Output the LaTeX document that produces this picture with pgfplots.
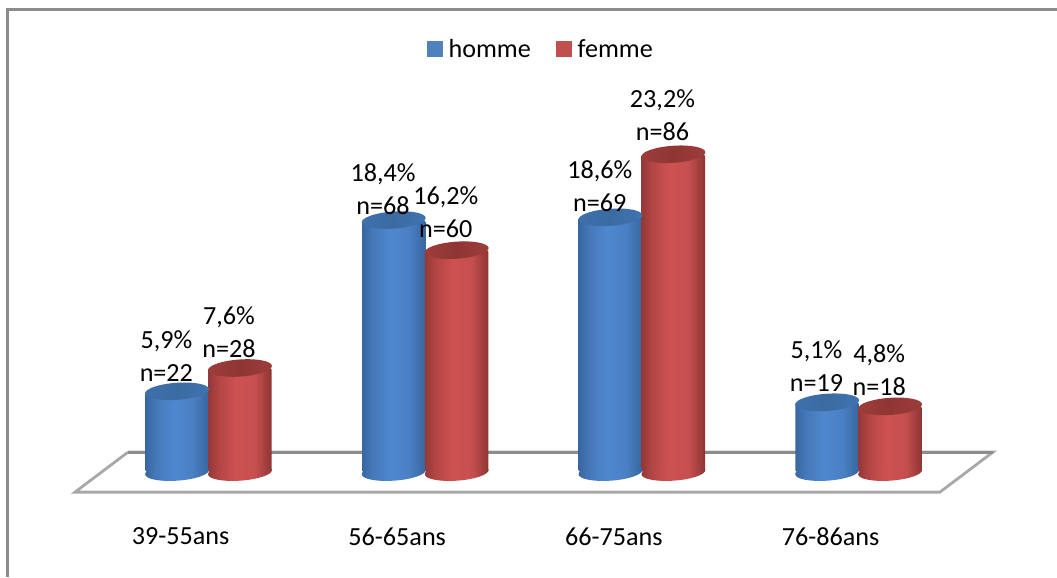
\documentclass[border=0pt]{standalone}
\usepackage{fontspec}
\setmainfont{Carlito}
\usepackage{pgfplots}
\usepackage{pgfplotstable}
\pgfplotsset{compat=1.18}

\definecolor{framegray}{RGB}{140,140,140}
\definecolor{floorgray}{RGB}{168,168,168}
\definecolor{legblue}{RGB}{79,129,189}
\definecolor{legred}{RGB}{192,80,77}

% cylinder body, stops between 25bp and 75bp span the path
\pgfdeclarehorizontalshading{cylblue}{100bp}{
  rgb(0bp)=(0.22,0.40,0.63); rgb(25bp)=(0.22,0.40,0.63); rgb(33bp)=(0.27,0.47,0.72);
  rgb(47bp)=(0.31,0.53,0.81); rgb(62bp)=(0.29,0.50,0.77); rgb(75bp)=(0.22,0.40,0.62); rgb(100bp)=(0.22,0.40,0.62)}
\pgfdeclarehorizontalshading{cylred}{100bp}{
  rgb(0bp)=(0.58,0.22,0.22); rgb(25bp)=(0.58,0.22,0.22); rgb(33bp)=(0.70,0.27,0.27);
  rgb(47bp)=(0.81,0.32,0.32); rgb(62bp)=(0.77,0.31,0.31); rgb(75bp)=(0.55,0.21,0.20); rgb(100bp)=(0.55,0.21,0.20)}
\pgfdeclarehorizontalshading{capblue}{100bp}{
  rgb(0bp)=(0.25,0.44,0.68); rgb(25bp)=(0.25,0.44,0.68); rgb(50bp)=(0.23,0.42,0.63); rgb(75bp)=(0.25,0.45,0.69); rgb(100bp)=(0.25,0.45,0.69)}
\pgfdeclarehorizontalshading{capred}{100bp}{
  rgb(0bp)=(0.62,0.24,0.23); rgb(25bp)=(0.62,0.24,0.23); rgb(50bp)=(0.56,0.21,0.20); rgb(75bp)=(0.62,0.24,0.23); rgb(100bp)=(0.62,0.24,0.23)}

\newcommand{\cylmark}[2]{%
  \pgfdeclareplotmark{#1}{%
    \pgftransformrotate{4}%
    \pgfpathellipse{\pgfpointorigin}{\pgfqpoint{24pt}{0pt}}{\pgfqpoint{0pt}{6.4pt}}%
    \pgfshadepath{#2}{0}%
    \pgfusepath{discard}}}
\cylmark{baseblue}{cylblue}
\cylmark{basered}{cylred}
\cylmark{topblue}{capblue}
\cylmark{topred}{capred}

% dh, df: small vertical nudge of each label, in pt
\pgfplotstableread{
x homme nh phomme dh femme nf pfemme df base
0 5.9  22 5,9  2.0  7.6  28 7,6  2.2 0
1 18.4 68 18,4 -1.1 16.2 60 16,2 3.8 0
2 18.6 69 18,6 -1.5 23.2 86 23,2 5.2 0
3 5.1  19 5,1  3.0  4.8  18 4,8  3.0 0
}\agedata

\pgfplotsset{
  cyl/.style={forget plot, ybar, bar width=47.6pt, draw=none, rounded corners=1.2pt},
  lab/.style 2 args={forget plot, draw=none, mark=none, point meta=explicit symbolic,
    visualization depends on={\thisrow{#1} \as \ncount},
    visualization depends on={\thisrow{#2} \as \dy},
    nodes near coords={\pgfplotspointmeta\%\\n=\pgfmathprintnumber[fixed,precision=0,assume math mode=true]{\ncount}},
    every node near coord/.append style={align=center, anchor=center, yshift={24.5pt+\dy pt},
      font=\fontsize{19.6}{24.75}\selectfont}},
}

\begin{document}
\begin{tikzpicture}
\begin{axis}[
    scale only axis,
    width=792.75pt,
    height=432.75pt,
    xmin=-0.9622, xmax=3.9155,
    ymin=-7.664, ymax=34.453,
    axis line style={draw=none},
    major tick length=0pt,
    ytick=\empty,
    xtick={0,1,2,3},
    xticklabels={39-55ans,56-65ans,66-75ans,76-86ans},
    xticklabel style={font=\fontsize{19.6}{24}\selectfont, xshift=-21pt, yshift=40.5pt},
    legend style={
        at={(0.5119,0.9150)},
        anchor=center,
        draw=none,
        fill=none,
        legend columns=2,
        font=\fontsize{19.6}{24}\selectfont,
        /tikz/every even column/.append style={column sep=16.7pt},
    },
]
\addlegendimage{legend image code/.code={\fill[legblue] (0pt,-5.6pt) rectangle (11.25pt,5.6pt); \path (14pt,0pt);}}
\addlegendentry{homme}
\addlegendimage{legend image code/.code={\fill[legred] (0pt,-5.6pt) rectangle (11.25pt,5.6pt); \path (14pt,0pt);}}
\addlegendentry{femme}

% open frame, left and top only
\addplot[forget plot, framegray, line width=2.2pt] coordinates {(-0.9276,-7.664) (-0.9276,33.80) (3.9155,33.80)};
% floor
\addplot[forget plot, floorgray, line width=2.1pt, line join=miter] coordinates {
    (-0.3715,1.46) (3.6196,1.46) (3.375,-1.46) (-0.6161,-1.46) (-0.3715,1.46)};
\addplot[forget plot, framegray, line width=2.1pt] coordinates {(-0.3715,1.46) (3.6196,1.46)};

% blue cylinders, one plot per bar so that the shading spans a single bar
\addplot[forget plot, only marks, mark=baseblue, mark options={xshift=-23.6pt}] table[x=x, y=base] {\agedata};
\pgfplotsinvokeforeach{0,1,2,3}{
  \addplot[cyl, bar shift=-23.6pt, shading=cylblue, restrict x to domain=#1:#1] table[x=x, y=homme] {\agedata};
}
\addplot[forget plot, only marks, mark=topblue, mark options={xshift=-23.6pt}] table[x=x, y=homme] {\agedata};
% red cylinders
\addplot[forget plot, only marks, mark=basered, mark options={xshift=23.6pt}] table[x=x, y=base] {\agedata};
\pgfplotsinvokeforeach{0,1,2,3}{
  \addplot[cyl, bar shift=23.6pt, shading=cylred, restrict x to domain=#1:#1] table[x=x, y=femme] {\agedata};
}
\addplot[forget plot, only marks, mark=topred, mark options={xshift=23.6pt}] table[x=x, y=femme] {\agedata};
% labels last, they sit over the bars
\addplot[lab={nh}{dh}, every node near coord/.append style={xshift=-31.6pt}] table[x=x, y=homme, meta=phomme] {\agedata};
\addplot[lab={nf}{df}, every node near coord/.append style={xshift=15.4pt}] table[x=x, y=femme, meta=pfemme] {\agedata};
\end{axis}
\end{tikzpicture}
\end{document}
